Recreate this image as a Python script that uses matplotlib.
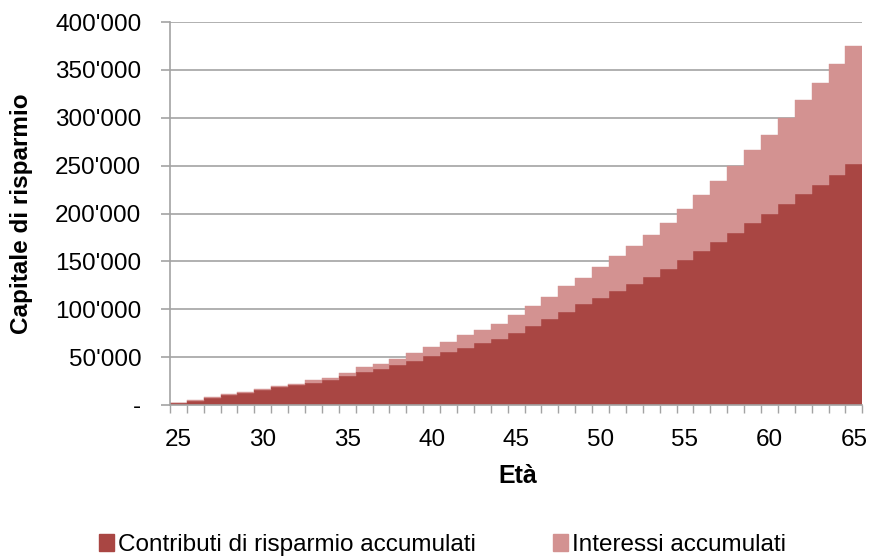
import numpy as np
import matplotlib.pyplot as plt
from matplotlib.ticker import FuncFormatter
from matplotlib.patches import Patch

plt.rcParams['font.family'] = ['Liberation Sans', 'DejaVu Sans']

# Data (CHF)
ages = list(range(25, 66))
contributi = [
    2000, 4500, 7500, 10200, 12900, 15400, 18400, 21000, 23300, 26000,
    30000, 34000, 38000, 42000, 46000, 51000, 55200, 59200, 64500, 68500,
    75500, 82300, 90000, 97000, 105000, 111500, 119500, 126500, 134000, 142500,
    151600, 160600, 170000, 179700, 190200, 199600, 209600, 220500, 230200, 240600,
    251400,
]
interessi = [
    300, 1100, 1200, 1000, 900, 1100, 1200, 1200, 2600, 2600,
    3900, 5500, 5300, 6500, 7800, 9500, 10600, 13400, 13400, 16400,
    18800, 21500, 23200, 27000, 28100, 32800, 36000, 40000, 44000, 48100,
    52800, 58800, 64000, 69600, 75800, 82400, 89800, 98100, 105700, 115600,
    123600,
]
x_labels = [25, 30, 35, 40, 45, 50, 55, 60, 65]

dark = "#A94643"
light = "#D39291"
grid_col = "#A3A3A3"
fs = 17.5

fig = plt.figure(figsize=(8.71, 5.59), dpi=100)
ax = fig.add_axes([0.195, 0.2755, 0.795, 0.685])

ax.bar(ages, contributi, width=1.0, color=dark, edgecolor=dark, linewidth=0.3)
ax.bar(ages, interessi, width=1.0, bottom=contributi, color=light,
       edgecolor=light, linewidth=0.3)

ax.set_xlim(24.5, 65.5)
ax.set_ylim(0, 400000)

# y axis
ax.set_yticks(np.arange(0, 400001, 50000))
ax.yaxis.set_major_formatter(FuncFormatter(
    lambda v, p: "-" if v == 0 else f"{int(v):,}".replace(",", "'")))
ax.yaxis.grid(True, color=grid_col, linewidth=1.2)
ax.set_axisbelow(True)
ax.tick_params(axis='y', length=6.5, width=1.2, color=grid_col,
               labelsize=fs, pad=14)

# x axis: ticks on category boundaries, labels on every 5th category
ax.set_xticks(np.arange(24.5, 66.0, 1.0))
ax.set_xticklabels([])
ax.set_xticks(x_labels, minor=True)
ax.set_xticklabels([str(a) for a in x_labels], minor=True)
ax.tick_params(axis='x', which='major', length=6, width=1.0, color=grid_col)
ax.tick_params(axis='x', which='minor', length=0, labelsize=fs, pad=17)

for s in ['top', 'right']:
    ax.spines[s].set_visible(False)
for s in ['left', 'bottom']:
    ax.spines[s].set_color(grid_col)
    ax.spines[s].set_linewidth(1.2)

ax.set_ylabel("Capitale di risparmio", fontsize=fs, fontweight='bold')
ax.yaxis.set_label_coords(-0.197, 0.5)
ax.set_xlabel("Età", fontsize=18, fontweight='bold')
ax.xaxis.set_label_coords(0.5025, -0.155)

handles = [Patch(color=dark, label="Contributi di risparmio accumulati"),
           Patch(color=light, label="Interessi accumulati")]
fig.legend(handles=handles, loc='center', bbox_to_anchor=(0.508, 0.025),
           ncol=2, frameon=False, fontsize=fs, handlelength=0.6,
           handleheight=0.7, handletextpad=0.15, columnspacing=3.2)

plt.savefig("out.png", dpi=100)
